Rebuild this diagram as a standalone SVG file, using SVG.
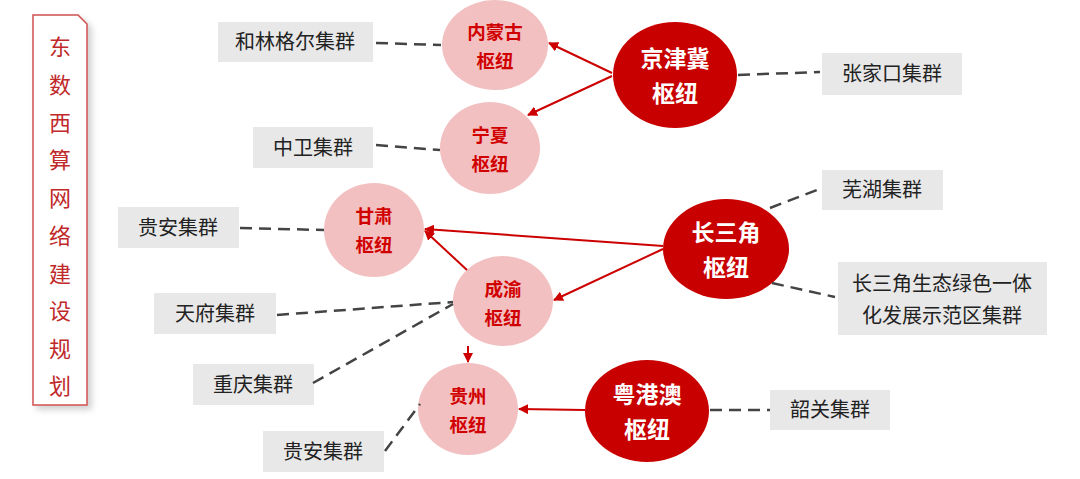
<svg xmlns="http://www.w3.org/2000/svg" width="1080" height="479" viewBox="0 0 1080 479">
<style>
.hub{fill:#c80000}
.sub{fill:#f2c0c1}
.box{fill:#e8e8e8}
.ht{font-family:"Noto Sans CJK SC","Noto Sans",sans-serif;font-weight:bold;font-size:23px;fill:#fff;text-anchor:middle}
.st{font-family:"Noto Sans CJK SC","Noto Sans",sans-serif;font-weight:bold;font-size:18.5px;fill:#d10000;text-anchor:middle}
.bt{font-family:"Noto Sans CJK SC","Noto Sans",sans-serif;font-size:20px;fill:#222;text-anchor:middle}
.tt{font-family:"Noto Sans CJK SC","Noto Sans",sans-serif;font-size:22px;fill:#c0282a;text-anchor:middle}
.dash{stroke:#444;stroke-width:2.5;stroke-dasharray:12 7;fill:none}
.arr{stroke:#cc0000;stroke-width:2;fill:none;marker-end:url(#ah)}
</style>
<defs>
<marker id="ah" viewBox="0 0 10 10" refX="9" refY="5" markerWidth="5" markerHeight="5" orient="auto" markerUnits="strokeWidth">
<path d="M0,0 L10,5 L0,10 z" fill="#cc0000"/>
</marker>
<filter id="sh" x="-30%" y="-10%" width="160%" height="120%">
<feDropShadow dx="4" dy="4" stdDeviation="3" flood-color="#000" flood-opacity="0.18"/>
</filter>
</defs>
<rect width="1080" height="479" fill="#fff"/>
<g id="title">
<path d="M33,15 L78,15 L87,24 L87,405 L33,405 Z" fill="#fff" stroke="#d05050" stroke-width="1.5" filter="url(#sh)"/>
<text class="tt" x="60" y="55">东</text>
<text class="tt" x="60" y="93">数</text>
<text class="tt" x="60" y="131">西</text>
<text class="tt" x="60" y="168">算</text>
<text class="tt" x="60" y="206">网</text>
<text class="tt" x="60" y="244">络</text>
<text class="tt" x="60" y="282">建</text>
<text class="tt" x="60" y="319">设</text>
<text class="tt" x="60" y="357">规</text>
<text class="tt" x="60" y="394">划</text>
</g>
<g id="n-neimenggu"><ellipse class="sub" cx="495" cy="45" rx="53" ry="45"/><text class="st" x="495" y="39">内蒙古</text><text class="st" x="495" y="68">枢纽</text></g>
<g id="n-ningxia"><ellipse class="sub" cx="490" cy="148" rx="50" ry="46"/><text class="st" x="490" y="142">宁夏</text><text class="st" x="490" y="171">枢纽</text></g>
<g id="n-jingjinji"><ellipse class="hub" cx="675" cy="75" rx="62" ry="53"/><text class="ht" x="675" y="67">京津冀</text><text class="ht" x="675" y="102">枢纽</text></g>
<g id="n-gansu"><ellipse class="sub" cx="374" cy="230" rx="50" ry="47"/><text class="st" x="374" y="223">甘肃</text><text class="st" x="374" y="252">枢纽</text></g>
<g id="n-chengyu"><ellipse class="sub" cx="503" cy="301" rx="50" ry="45"/><text class="st" x="503" y="296">成渝</text><text class="st" x="503" y="325">枢纽</text></g>
<g id="n-guizhou"><ellipse class="sub" cx="468" cy="409" rx="50" ry="46"/><text class="st" x="468" y="403">贵州</text><text class="st" x="468" y="432">枢纽</text></g>
<g id="n-yuegangao"><ellipse class="hub" cx="647" cy="411" rx="62" ry="51"/><text class="ht" x="647" y="403">粤港澳</text><text class="ht" x="647" y="438">枢纽</text></g>
<g id="n-changsanjiao"><ellipse class="hub" cx="726" cy="249" rx="63" ry="50"/><text class="ht" x="726" y="241">长三角</text><text class="ht" x="726" y="276">枢纽</text></g>
<g id="b-helin"><rect class="box" x="218" y="22" width="155" height="40"/><text class="bt" x="295" y="49">和林格尔集群</text></g>
<g id="b-zhangjiakou"><rect class="box" x="822" y="53" width="140" height="42"/><text class="bt" x="892" y="81">张家口集群</text></g>
<g id="b-zhongwei"><rect class="box" x="253" y="127" width="120" height="41"/><text class="bt" x="313" y="155">中卫集群</text></g>
<g id="b-wuhu"><rect class="box" x="822" y="170" width="121" height="40"/><text class="bt" x="882" y="197">芜湖集群</text></g>
<g id="b-shifanqu"><rect class="box" x="838" y="262" width="209" height="73"/><text class="bt" x="942" y="291">长三角生态绿色一体</text><text class="bt" x="942" y="323">化发展示范区集群</text></g>
<g id="b-guian1"><rect class="box" x="118" y="207" width="121" height="41"/><text class="bt" x="178" y="235">贵安集群</text></g>
<g id="b-tianfu"><rect class="box" x="154" y="293" width="122" height="41"/><text class="bt" x="215" y="321">天府集群</text></g>
<g id="b-chongqing"><rect class="box" x="193" y="364" width="121" height="41"/><text class="bt" x="253" y="392">重庆集群</text></g>
<g id="b-guian2"><rect class="box" x="263" y="431" width="121" height="41"/><text class="bt" x="323" y="459">贵安集群</text></g>
<g id="b-shaoguan"><rect class="box" x="770" y="390" width="120" height="40"/><text class="bt" x="830" y="417">韶关集群</text></g>
<g id="connectors">
<line class="dash" x1="376" y1="43" x2="441" y2="45"/>
<line class="dash" x1="376" y1="145" x2="440" y2="150"/>
<line class="dash" x1="738" y1="75" x2="820" y2="72"/>
<line class="dash" x1="240" y1="228" x2="324" y2="230"/>
<line class="dash" x1="277" y1="315" x2="453" y2="302"/>
<line class="dash" x1="313" y1="383" x2="453" y2="304"/>
<line class="dash" x1="385" y1="451" x2="420" y2="404"/>
<line class="dash" x1="770" y1="208" x2="822" y2="188"/>
<line class="dash" x1="772" y1="283" x2="835" y2="297"/>
<line class="dash" x1="710" y1="410" x2="770" y2="410"/>
<line class="arr" x1="612" y1="73" x2="549" y2="43"/>
<line class="arr" x1="612" y1="76" x2="528" y2="115"/>
<line class="arr" x1="663" y1="246" x2="425" y2="229"/>
<line class="arr" x1="663" y1="249" x2="554" y2="300"/>
<line class="arr" x1="467" y1="270" x2="425" y2="231"/>
<line class="arr" x1="468" y1="346" x2="468" y2="362"/>
<line class="arr" x1="585" y1="410" x2="519" y2="409"/>
</g>
</svg>
